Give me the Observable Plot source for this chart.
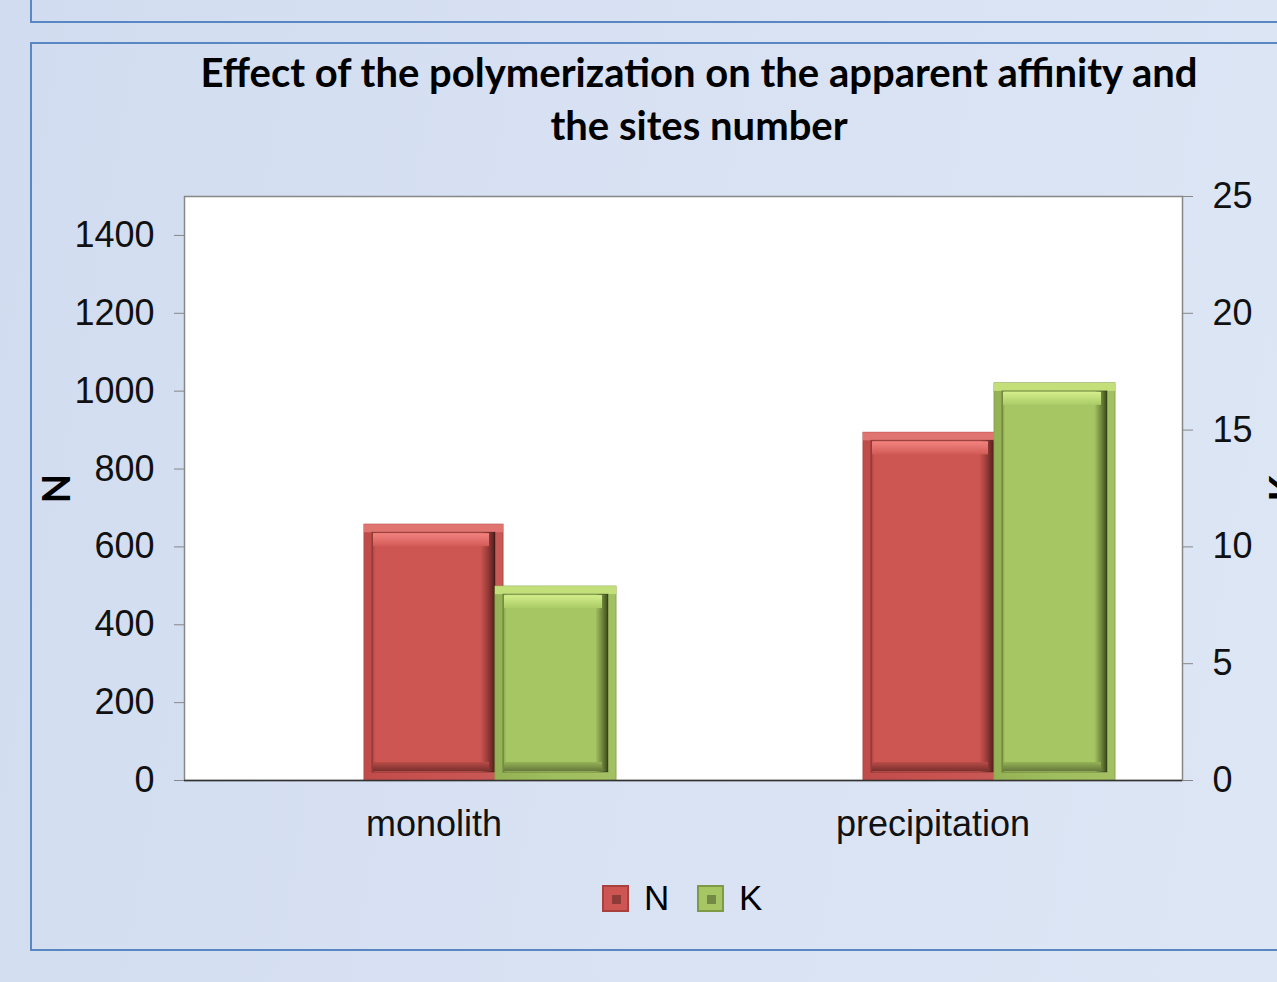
<!DOCTYPE html>
<html>
<head>
<meta charset="utf-8">
<script src="https://cdn.jsdelivr.net/npm/d3@7"></script>
<script src="https://cdn.jsdelivr.net/npm/@observablehq/plot@0.6"></script>
<style>
  html, body { margin: 0; padding: 0; width: 1277px; height: 982px; overflow: hidden; }
  body { background: linear-gradient(100deg, #d1dcf0 0%, #d8e2f3 50%, #dde6f5 100%); position: relative; font-family: "Liberation Sans", Arial, sans-serif; }
  .box { position: absolute; border: 2px solid #5a86c2; box-sizing: border-box; }
  #box1 { left: 30px; top: -20px; width: 1320px; height: 43px; }
  #box2 { left: 30px; top: 42px; width: 1320px; height: 909px; }
  #title { position: absolute; left: 0; width: 1398px; top: 46px; text-align: center; font-family: Lato, "Open Sans", sans-serif; font-weight: 700; font-size: 40px; line-height: 53px; color: #000; }
  #chart { position: absolute; left: 0; top: 150px; }
  #legend { position: absolute; top: 880px; left: 0; width: 1277px; height: 36px; }
  .li { position: absolute; top: 0; display: flex; align-items: center; font-size: 35px; color: #000; height: 36px; }
  .sw { width: 27px; height: 27px; box-sizing: border-box; margin-right: 15px; position: relative; }
  .sw::after { content: ""; position: absolute; left: 8px; top: 8px; width: 9px; height: 9px; background: rgba(0,0,0,0.3); }
</style>
</head>
<body>
<div class="box" id="box1"></div>
<div class="box" id="box2"></div>
<div id="title">Effect of the polymerization on the apparent affinity and<br>the sites number</div>
<div id="chart"></div>
<div id="legend">
  <div class="li" style="left:602px"><div class="sw" style="background:#cd5652;border:2px solid #a8403d"></div>N</div>
  <div class="li" style="left:697px"><div class="sw" style="background:#a6c563;border:2px solid #7f9a46"></div>K</div>
</div>
<script>
// ---- data ----
const categories = ["monolith", "precipitation"];
const nValues = [657, 893];
const kValues = [8.3, 17.0];
const leftTicks = [0, 200, 400, 600, 800, 1000, 1200, 1400];
const rightTicks = [0, 5, 10, 15, 20, 25];
const leftMax = 1500;
const rightMax = 25;

const kFactor = leftMax / rightMax;
const rows = categories.map((c, i) => ({category: c, N: nValues[i], K: kValues[i], Ks: kValues[i] * kFactor}));

// gradient definitions
function defs() {
  const d = d3.create("svg:defs");
  function hGrad(id, stops) {
    const g = d.append("linearGradient").attr("id", id).attr("x1", 0).attr("x2", 1).attr("y1", 0).attr("y2", 0);
    stops.forEach(([o, c]) => g.append("stop").attr("offset", o).attr("stop-color", c));
  }
  function vGrad(id, stops) {
    const g = d.append("linearGradient").attr("id", id).attr("x1", 0).attr("x2", 0).attr("y1", 0).attr("y2", 1);
    stops.forEach(([o, c]) => g.append("stop").attr("offset", o).attr("stop-color", c));
  }
  hGrad("redInner", [[0, "#a94441"], [0.03, "#cd5652"], [0.88, "#cd5652"], [0.94, "#9a3c39"], [1, "#4e1d1b"]]);
  hGrad("greenInner", [[0, "#849e48"], [0.03, "#a6c563"], [0.88, "#a6c563"], [0.94, "#738b3f"], [1, "#3b4a1c"]]);
  hGrad("redOuter", [[0, "#c04c49"], [0.5, "#c9524f"], [1, "#c75a57"]]);
  hGrad("greenOuter", [[0, "#94b255"], [0.5, "#9fbe5e"], [1, "#a3c063"]]);
  vGrad("redTop", [[0, "#f3837f"], [1, "#d25b57"]]);
  vGrad("greenTop", [[0, "#d3ef8b"], [1, "#aacb67"]]);
  vGrad("redBottom", [[0, "#b94c49"], [1, "#7a2f2c"]]);
  vGrad("greenBottom", [[0, "#95b257"], [1, "#66793a"]]);
  return d.node();
}

function bevel(field, L, R, name, rim) {
  const r = 8;
  return [
    Plot.barY(rows, {x: "category", y: field, insetLeft: L, insetRight: R, fill: `url(#${name}Outer)`, stroke: name === "red" ? "#b04744" : "#8aa64e", strokeWidth: 1}),
    Plot.barY(rows, {x: "category", y1: field, y2: field, insetLeft: L, insetRight: R, insetTop: 0, insetBottom: -r, fill: rim}),
    Plot.barY(rows, {x: "category", y: field, insetLeft: L + r, insetRight: R + r, insetTop: r, insetBottom: r, fill: `url(#${name}Inner)`, stroke: "rgba(0,0,0,0.3)", strokeWidth: 1}),
    Plot.barY(rows, {x: "category", y1: field, y2: field, insetLeft: L + r + 1, insetRight: R + r + 6, insetTop: r + 1, insetBottom: -(r + 14), fill: `url(#${name}Top)`}),
    Plot.barY(rows, {x: "category", y1: 0, y2: 0, insetLeft: L + r + 1, insetRight: R + r + 6, insetTop: -(r + 10), insetBottom: r + 1, fill: `url(#${name}Bottom)`})
  ];
}

const chart = Plot.plot({
  width: 1277,
  height: 700,
  marginLeft: 184,
  marginRight: 95,
  marginTop: 46,
  marginBottom: 70,
  style: {background: "transparent", fontFamily: "'Liberation Sans', Arial, sans-serif", color: "#000", overflow: "hidden"},
  x: {type: "band", domain: categories, padding: 0, axis: null},
  y: {domain: [0, leftMax], nice: false, axis: null},
  marks: [
    defs,
    Plot.frame({fill: "white", stroke: "#878787", strokeWidth: 1.5}),
    ...bevel("N", 180, 180, "red", "#e07470"),
    ...bevel("Ks", 311, 67, "green", "#c2df7a"),
    Plot.ruleY([0], {stroke: "#333", strokeWidth: 1.5}),
    Plot.axisY(leftTicks, {anchor: "left", tickSize: 10, tickPadding: 20, fontSize: 36, stroke: "#888", fill: "#111", tickFormat: d => String(d), label: null}),
    Plot.axisY(rightTicks.map(d => d * kFactor), {anchor: "right", tickSize: 10, tickPadding: 20, fontSize: 36, stroke: "#888", fill: "#111", tickFormat: d => String(d / kFactor), label: null}),
    Plot.axisX({tickSize: 0, tickPadding: 30, fontSize: 36, fill: "#111", label: null}),
    Plot.text(["N"], {frameAnchor: "left", textAnchor: "middle", dx: -127, rotate: -90, fontSize: 38, fontWeight: "bold", fontFamily: "Lato, sans-serif", fill: "#000"}),
    Plot.text(["K"], {frameAnchor: "right", textAnchor: "middle", dx: 102, rotate: -90, fontSize: 38, fontWeight: "bold", fontFamily: "Lato, sans-serif", fill: "#000"})
  ]
});
document.getElementById("chart").appendChild(chart);
</script>
</body>
</html>
